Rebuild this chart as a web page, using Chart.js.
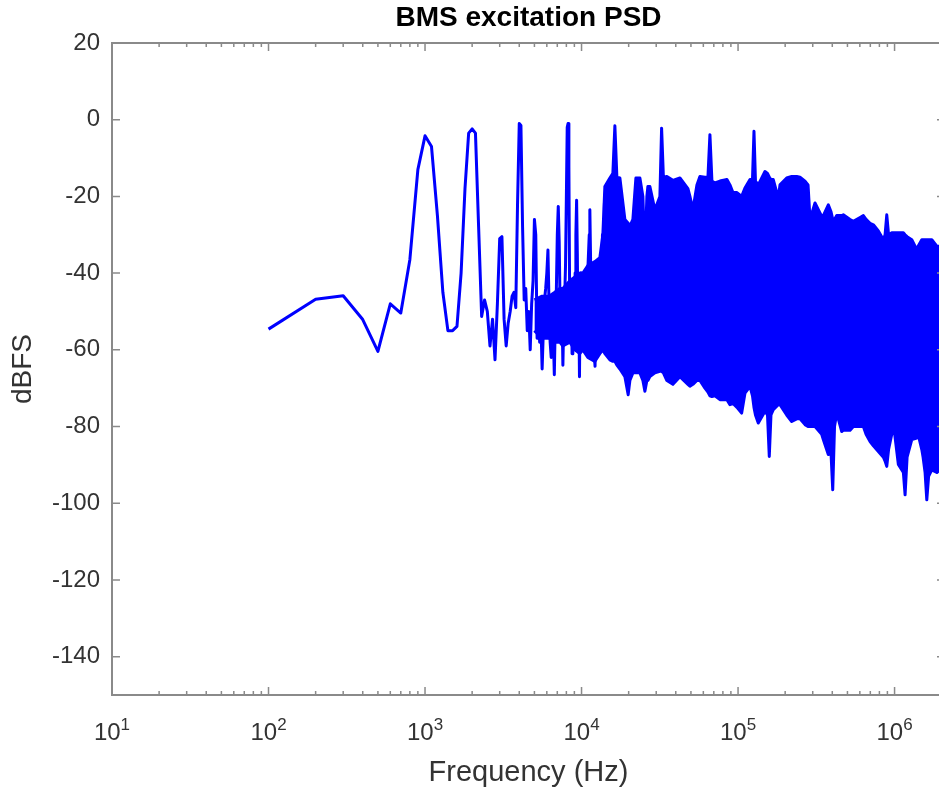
<!DOCTYPE html>
<html>
<head>
<meta charset="utf-8">
<title>BMS excitation PSD</title>
<script src="https://cdn.jsdelivr.net/npm/chart.js@4.4.1/dist/chart.umd.min.js"></script>
<style>
  html, body { margin: 0; padding: 0; background: #fff; overflow: hidden; }
  #grafico { position: absolute; left: 0; top: 0; width: 946px; height: 791px; }
</style>
</head>
<body>
<div id="grafico"><canvas id="psd"></canvas></div>
<script>
// sparse part of the spectrum (Hz, dBFS)
const lineFreq = [
  100, 200, 300, 400, 500, 600, 700, 800, 900, 1000,
  1100, 1200, 1300, 1400, 1500, 1600, 1700, 1800, 1900, 2000,
  2100, 2200, 2300, 2400, 2500, 2600, 2700, 2800, 2900, 3000,
  3100, 3200, 3300, 3400, 3500, 3600, 3700, 3800, 3900, 4000,
  4100, 4200, 4300, 4400, 4500, 4600, 4700, 4800, 4900, 5000,
  5100, 5200, 5300, 5400, 5500, 5600, 5700, 5800, 5900, 6000,
  6100, 6200, 6300, 6400, 6500, 6600, 6700, 6800, 6900, 7000,
  7100, 7200, 7300, 7400, 7500, 7600, 7700, 7800, 7900, 8000,
  8100, 8200, 8300, 8400, 8500, 8600, 8700, 8800, 8900, 9000,
  9100, 9200, 9300, 9400, 9500, 9600, 9700, 9800, 9900, 10000,
  10200, 10400, 10600, 10800, 11000, 11200, 11300, 11400, 11600, 11800,
  12000, 12200, 12400, 12600, 12800, 13000, 13200, 13400, 13600, 13800,
  14000, 14300, 14600, 14900, 15200
];
const lineDb = [
  -54.6, -46.8, -45.9, -52.1, -60.4, -48.0, -50.4, -36.5, -13.0, -4.2,
  -7.0, -25, -45, -55, -55, -53.9, -40, -18, -3.5, -2.4,
  -3.5, -28, -51.3, -47, -50, -59, -52, -62.6, -48, -31,
  -30.5, -52, -59, -53, -50, -46, -45, -49, -22, -1,
  -1.5, -28, -47, -44, -55, -50, -60, -48, -42, -26,
  -30, -57, -50, -58, -53, -65, -55, -47, -44, -40,
  -34, -48, -58, -62, -48, -56, -66.5, -52, -45, -30,
  -22.6, -32, -50, -56, -48, -64, -52, -47, -38, -20,
  -2, -1, -12, -48, -56, -46, -61, -50, -43, -58,
  -40, -30, -21, -35, -57, -48, -67, -47, -40, -52,
  -44, -60, -42, -58, -38, -30, -23.5, -34, -56, -44,
  -60, -64.3, -42, -56, -38, -58, -36, -60, -30, -50,
  -22, -17.4, -45, -60, -30
];

// dense part: upper and lower envelope of the noise floor
const bandFreq = [
  5000, 5600, 6200, 6750, 7266, 7595, 8419, 9063, 9752, 10193,
  10971, 12162, 13092, 13684, 14093, 15171, 15855, 16330, 16818, 17577,
  18922, 19861, 20363, 21283, 22245, 23597, 24660, 25393, 26150, 26540,
  27333, 29420, 31668, 32471, 33343, 35110, 38357, 42518, 47825, 49253,
  51470, 54598, 57062, 61425, 64195, 66109, 68083, 71160, 76610, 84921,
  88760, 92770, 98400, 105440, 110700, 119200, 123650, 126400, 129200, 134650,
  148600, 154200, 158300, 162300, 167900, 180700, 185300, 204500, 220200, 237000,
  248800, 267800, 280000, 288300, 310200, 342300, 350500, 377300, 392700, 402700,
  413400, 427000, 459600, 470500, 519500, 545300, 601900, 631800, 657500, 697400,
  732100, 787800, 848100, 869600, 891600, 915600, 959700, 982500, 1057600, 1138400,
  1167300, 1202300, 1288200, 1386800, 1413600, 1492700, 1521600, 1566800, 1606600, 1649700,
  1729500, 1861100, 2100000
];
const bandTop = [
  -47, -46, -46, -45, -44, -44, -42, -41, -40, -40,
  -38, -37, -36, -30, -17.4, -15.2, -14, -1.6, -15, -15.2,
  -26, -27, -27.8, -26, -15.2, -15.2, -20, -36, -20, -17.4,
  -17.4, -23.5, -20, -2.2, -15, -14.8, -15.8, -15.2, -18, -20,
  -23.5, -17, -14.8, -15, -15, -3.9, -16, -16.5, -16, -15.6,
  -17, -19, -19, -20, -17.8, -15.6, -15.6, -3, -16, -17,
  -13.5, -14, -15, -15.6, -15.6, -20.4, -17, -15.2, -14.8, -14.8,
  -15, -16, -17, -26, -21.7, -25.2, -25, -22.2, -24, -26,
  -26, -25, -25, -24.8, -26, -26.5, -25.5, -25, -26, -27,
  -27.4, -29, -31.3, -30, -24.8, -30, -29.5, -29.5, -29.5, -29.5,
  -30, -30.5, -31.3, -33.9, -33, -31.3, -31.3, -31.3, -31.3, -31.3,
  -31.3, -33, -33
];
const bandBottom = [
  -55, -57, -57, -58, -58, -59, -58, -60, -61, -60,
  -62, -63, -61, -60, -61, -62.6, -63, -63, -64, -65,
  -67, -71.7, -68, -66, -66, -66, -68, -70.8, -68, -68,
  -67, -66, -65.6, -65.6, -66, -68, -69, -67, -69, -69.5,
  -69, -68, -68, -70, -71, -72, -72.2, -72, -73, -73,
  -74.3, -74, -75, -76.5, -71.3, -69.5, -72, -75, -77, -79.1,
  -76, -77, -87.8, -77, -75.6, -74.3, -74.3, -77, -78.7, -78,
  -78, -79.5, -80, -80, -80, -82, -83.4, -87.3, -87, -96.5,
  -80, -76.5, -81.3, -81, -81, -80, -80, -80, -82, -83.9,
  -85, -86.5, -88, -89, -90.4, -86, -82, -79.1, -89.9, -92,
  -97.8, -88, -83.4, -83, -82, -86, -88, -92, -99.1, -93,
  -91.3, -92, -90
];

const yTicks = [-140, -120, -100, -80, -60, -40, -20, 0, 20];
const xDecades = [10, 100, 1000, 10000, 100000, 1000000];
const xTickBase = '10';
const xTickExp = ['1', '2', '3', '4', '5', '6'];

const blu = '#0000ff';
const axisColor = '#8a8a8a';
const textColor = '#333333';
const fontFamily = '"Liberation Sans", Arial, sans-serif';

function punti(freq, db) {
    return freq.map((f, i) => ({x: f, y: db[i]}));
}

// MATLAB style box: inward ticks on all sides and 10^n labels
const assiMatlab = {
    id: 'assiMatlab',
    afterDatasetsDraw(chart) {
        const {ctx, chartArea: a, scales: {x, y}} = chart;
        ctx.save();
        ctx.strokeStyle = axisColor;
        ctx.lineWidth = 1.5;
        ctx.beginPath();
        yTicks.forEach(v => {
            const py = y.getPixelForValue(v);
            ctx.moveTo(a.left, py); ctx.lineTo(a.left + 8, py);
            ctx.moveTo(a.right, py); ctx.lineTo(a.right - 8, py);
        });
        xDecades.forEach(d => {
            for (let k = 1; k <= 9; k++) {
                const v = d * k;
                if (v > x.max) break;
                const px = x.getPixelForValue(v);
                const len = k === 1 ? 8 : 4;
                ctx.moveTo(px, a.bottom); ctx.lineTo(px, a.bottom - len);
                ctx.moveTo(px, a.top); ctx.lineTo(px, a.top + len);
            }
        });
        ctx.stroke();
        ctx.lineWidth = 2;
        ctx.strokeRect(a.left, a.top, a.right - a.left, a.bottom - a.top);

        ctx.fillStyle = textColor;
        ctx.textAlign = 'left';
        ctx.textBaseline = 'alphabetic';
        xDecades.forEach((d, i) => {
            const px = x.getPixelForValue(d);
            ctx.font = '24px ' + fontFamily;
            const wBase = ctx.measureText(xTickBase).width;
            ctx.font = '17px ' + fontFamily;
            const wExp = ctx.measureText(xTickExp[i]).width;
            const start = px - (wBase + wExp) / 2;
            ctx.font = '24px ' + fontFamily;
            ctx.fillText(xTickBase, start, a.bottom + 45);
            ctx.font = '17px ' + fontFamily;
            ctx.fillText(xTickExp[i], start + wBase, a.bottom + 35);
        });
        ctx.restore();
    }
};

const stileLinea = {
    borderColor: blu,
    borderWidth: 3,
    borderJoinStyle: 'round',
    pointRadius: 0,
    tension: 0
};

new Chart(document.getElementById('psd'), {
    type: 'line',
    data: {
        datasets: [{
            ...stileLinea,
            label: 'band top',
            data: punti(bandFreq, bandTop),
            backgroundColor: blu,
            fill: '+1'
        }, {
            ...stileLinea,
            label: 'band bottom',
            data: punti(bandFreq, bandBottom),
            fill: false
        }, {
            ...stileLinea,
            label: 'PSD',
            data: punti(lineFreq, lineDb),
            fill: false
        }]
    },
    options: {
        responsive: true,
        maintainAspectRatio: false,
        animation: false,
        layout: {
            padding: {left: 0, right: 1, top: 0, bottom: 0}
        },
        scales: {
            x: {
                type: 'logarithmic',
                min: 10,
                max: 2100000,
                grid: {display: false},
                border: {display: false},
                ticks: {display: false},
                title: {
                    display: true,
                    text: 'Frequency (Hz)',
                    color: textColor,
                    font: {family: fontFamily, size: 29, lineHeight: 1},
                    padding: {top: 0, bottom: 3.5}
                },
                afterFit: scale => { scale.height = 96; }
            },
            y: {
                type: 'linear',
                min: -150,
                max: 20,
                grid: {display: false, drawTicks: false},
                border: {display: false},
                afterBuildTicks: scale => {
                    scale.ticks = yTicks.map(v => ({value: v}));
                },
                ticks: {
                    padding: 12,
                    color: textColor,
                    font: {family: fontFamily, size: 24},
                    callback: v => String(v)
                },
                title: {
                    display: true,
                    text: 'dBFS',
                    color: textColor,
                    font: {family: fontFamily, size: 28, lineHeight: 1},
                    padding: {top: 9.5, bottom: 0}
                },
                afterFit: scale => { scale.width = 112; }
            }
        },
        plugins: {
            legend: {display: false},
            tooltip: {enabled: false},
            title: {
                display: true,
                text: 'BMS excitation PSD',
                color: '#000000',
                fullSize: false,
                font: {family: fontFamily, size: 28, weight: 'bold', lineHeight: 1},
                padding: {top: 4.5, bottom: 10.5}
            }
        }
    },
    plugins: [assiMatlab]
});
</script>
</body>
</html>
